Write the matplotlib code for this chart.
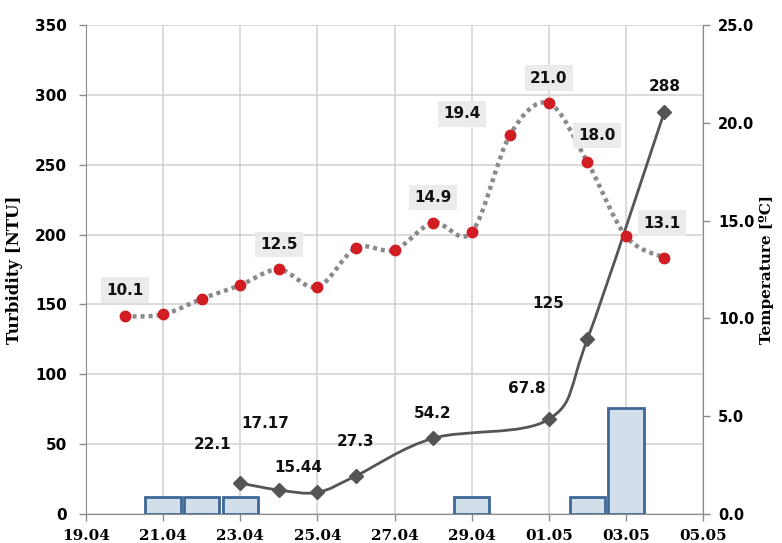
import datetime as dt
import matplotlib
matplotlib.use("Agg")
import matplotlib.pyplot as plt
import matplotlib.dates as mdates
from matplotlib.path import Path
from matplotlib.patches import PathPatch

# Rainfall bars (plotted against the turbidity scale)
rain_dates = ["21.04", "22.04", "23.04", "29.04", "02.05", "03.05"]
rain_vals = [12.5, 12.5, 12.5, 12.5, 12.5, 76]

# Turbidity [NTU]
turb_dates = ["23.04", "24.04", "25.04", "26.04", "28.04", "01.05", "02.05", "04.05"]
turb_vals = [22.1, 17.17, 15.44, 27.3, 54.2, 67.8, 125, 288]
turb_labels = ["22.1", "17.17", "15.44", "27.3", "54.2", "67.8", "125", "288"]

# Temperature [ºC]
temp_dates = ["20.04", "21.04", "22.04", "23.04", "24.04", "25.04", "26.04", "27.04",
              "28.04", "29.04", "30.04", "01.05", "02.05", "03.05", "04.05"]
temp_vals = [10.1, 10.2, 11.0, 11.7, 12.5, 11.6, 13.6, 13.5,
             14.9, 14.4, 19.4, 21.0, 18.0, 14.2, 13.1]
# which temperature points get a label, and their offsets in points
temp_annot = {"20.04": (0, 19), "24.04": (0, 18), "28.04": (0, 18), "30.04": (-35, 15),
              "01.05": (0, 18), "02.05": (7, 19), "04.05": (-2, 25)}
turb_annot = [(-20, 28), (-10, 48), (-14, 18), (0, 25), (0, 18), (-16, 22), (-28, 26), (0, 18)]

x_ticks = ["19.04", "21.04", "23.04", "25.04", "27.04", "29.04", "01.05", "03.05", "05.05"]


def to_date(s):
    d, m = s.split(".")
    return dt.datetime(2015, int(m), int(d))


def smooth_path(xs, ys):
    # Catmull-Rom style bezier, same as spreadsheet "smoothed line"
    pts = list(zip(xs, ys))
    verts = [pts[0]]
    codes = [Path.MOVETO]
    n = len(pts)
    for i in range(n - 1):
        p0 = pts[i - 1] if i > 0 else pts[i]
        p1 = pts[i]
        p2 = pts[i + 1]
        p3 = pts[i + 2] if i + 2 < n else pts[i + 1]
        c1 = (p1[0] + (p2[0] - p0[0]) / 6, p1[1] + (p2[1] - p0[1]) / 6)
        c2 = (p2[0] - (p3[0] - p1[0]) / 6, p2[1] - (p3[1] - p1[1]) / 6)
        verts += [c1, c2, p2]
        codes += [Path.CURVE4] * 3
    return Path(verts, codes)


label_font = "DejaVu Sans"
serif_font = "DejaVu Serif"

fig = plt.figure(figsize=(7.82, 5.43), dpi=100)
ax = fig.add_axes([0.110, 0.0534, 0.789, 0.9006])
ax2 = ax.twinx()

rx = [mdates.date2num(to_date(s)) for s in rain_dates]
tx = [mdates.date2num(to_date(s)) for s in turb_dates]
px = [mdates.date2num(to_date(s)) for s in temp_dates]

ax.bar(rx, rain_vals, width=0.92, color="#d3deeb", edgecolor="#3d6896", linewidth=2, zorder=2)

ax.add_patch(PathPatch(smooth_path(tx, turb_vals), fill=False, edgecolor="#555555",
                       linewidth=2, zorder=3))
ax.plot(tx, turb_vals, linestyle="none", marker="D", markersize=7, color="#555555", zorder=4)
for x, y, lab, off in zip(tx, turb_vals, turb_labels, turb_annot):
    ax.annotate(lab, (x, y), xytext=off, textcoords="offset points", ha="center", va="center",
                fontsize=11, fontweight="bold", family=label_font, color="#111111", zorder=6)

ax2.add_patch(PathPatch(smooth_path(px, temp_vals), fill=False, edgecolor="#8a8a8a",
                        linewidth=3.2, linestyle=(0, (0.9, 0.9)), zorder=3))
ax2.plot(px, temp_vals, linestyle="none", marker="o", markersize=7.5, color="#d01c22", zorder=4)
for x, y, s in zip(px, temp_vals, temp_dates):
    if s in temp_annot:
        ax2.annotate(f"{y:.1f}", (x, y), xytext=temp_annot[s], textcoords="offset points",
                     ha="center", va="center", fontsize=11, fontweight="bold",
                     family=label_font, color="#111111", zorder=6,
                     bbox=dict(boxstyle="square,pad=0.35", facecolor="#ebebeb", edgecolor="none"))

xmin = mdates.date2num(to_date("19.04"))
xmax = mdates.date2num(to_date("05.05"))
ax.set_xlim(xmin, xmax)
ax.set_ylim(0, 350)
ax2.set_ylim(0, 25)

ax.set_xticks([mdates.date2num(to_date(s)) for s in x_ticks])
ax.set_xticklabels(x_ticks, family=serif_font, fontweight="bold", fontsize=11)
ax.set_yticks(range(0, 351, 50))
ax.set_yticklabels([str(v) for v in range(0, 351, 50)], family=label_font,
                   fontweight="bold", fontsize=11)
ax2.set_yticks([0, 5, 10, 15, 20, 25])
ax2.set_yticklabels([f"{v:.1f}" for v in [0, 5, 10, 15, 20, 25]], family=label_font,
                    fontweight="bold", fontsize=10.5)

ax.grid(True, color="#d4d4d4", linewidth=1.2)
ax.set_axisbelow(True)

for a in (ax, ax2):
    a.spines["top"].set_visible(False)
    a.spines["left"].set_color("#8c8c8c")
    a.spines["bottom"].set_color("#8c8c8c")
    a.spines["right"].set_color("#8c8c8c")
    a.tick_params(color="#8c8c8c", length=5, width=1)
ax.spines["right"].set_visible(False)
ax2.spines["left"].set_visible(False)
ax2.spines["bottom"].set_visible(False)
ax.tick_params(axis="y", pad=9)
ax.tick_params(axis="x", pad=6)
ax2.tick_params(axis="y", pad=6)

ax.set_ylabel("Turbidity [NTU]", family=serif_font, fontweight="bold", fontsize=12, labelpad=8)
ax2.set_ylabel("Temperature [ºC]", family=serif_font, fontweight="bold", fontsize=11, labelpad=3)

fig.savefig("out.png", dpi=100)
